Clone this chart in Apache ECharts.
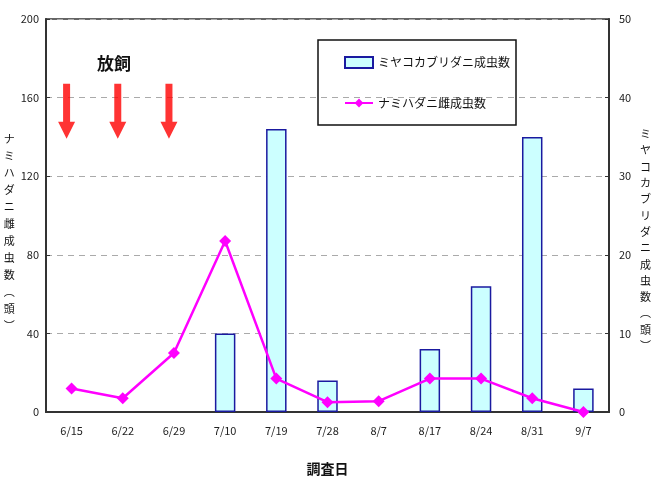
<!DOCTYPE html>
<html>
<head>
<meta charset="utf-8">
<script src="https://cdn.jsdelivr.net/npm/echarts@6/dist/echarts.min.js"></script>
<style>
html,body{margin:0;padding:0;background:#fff;}
#c{width:659px;height:477px;}
</style>
</head>
<body>
<div id="c"></div>
<script>
// ---- data ----
var categories = ['6/15','6/22','6/29','7/10','7/19','7/28','8/7','8/17','8/24','8/31','9/7'];
// ミヤコカブリダニ成虫数 (right axis)
var predatorCounts = [null, null, null, 10, 36, 4, null, 8, 16, 35, 3];
// ナミハダニ雌成虫数 (left axis)
var spiderMiteCounts = [12, 7, 30, 87, 17, 5, 5.5, 17, 17, 7, 0];
// release (放飼) dates, marked with arrows
var releaseDates = ['6/15','6/22','6/29'];
var releaseMarkLevel = 153;
var leftTicks = {min: 0, max: 200, interval: 40};
var rightTicks = {min: 0, max: 50, interval: 10};
var barName = 'ミヤコカブリダニ成虫数';
var lineName = 'ナミハダニ雌成虫数';
var leftAxisName = 'ナミハダニ雌成虫数︵頭︶';
var rightAxisName = 'ミヤコカブリダニ成虫数︵頭︶';
var xAxisName = '調査日';
var releaseLabel = '放飼';

var FONT = '"Noto Sans CJK JP", "Liberation Sans", sans-serif';
var chart = echarts.init(document.getElementById('c'), null, {renderer: 'canvas'});
var arrowPath = 'path://M5,0 L12,0 L12,38 L17,38 L8.5,55 L0,38 L5,38 Z';

function verticalText(s, leadingBlankLines) {
  var pre = '';
  for (var i = 0; i < leadingBlankLines; i++) pre += '\n';
  return pre + s.split('').join('\n');
}

chart.setOption({
  animation: false,
  backgroundColor: '#fff',
  textStyle: {fontFamily: FONT},
  title: {
    text: releaseLabel,
    left: 92, top: 50,
    textStyle: {fontSize: 17, fontWeight: 'bold', color: '#111', fontFamily: FONT}
  },
  legend: {
    left: 318, top: 40,
    orient: 'vertical',
    borderColor: '#111', borderWidth: 1.5,
    padding: [16, 6, 16, 26],
    itemGap: 28,
    itemWidth: 28, itemHeight: 11,
    textStyle: {fontSize: 12, color: '#111', fontFamily: FONT},
    data: [
      {name: barName, icon: 'rect'},
      {name: lineName}
    ]
  },
  grid: {
    left: 46, right: 50, top: 19, bottom: 65,
    show: true, borderColor: '#333', borderWidth: 1.5,
    containLabel: false,
    outerBoundsMode: 'none'
  },
  xAxis: {
    type: 'category',
    data: categories,
    name: xAxisName,
    nameLocation: 'middle',
    nameGap: 50,
    nameTextStyle: {fontSize: 14, fontWeight: 'bold', color: '#111', fontFamily: FONT},
    axisLine: {lineStyle: {color: '#333', width: 2}},
    axisTick: {inside: true, length: 4, lineStyle: {color: '#333'}},
    axisLabel: {fontSize: 11, color: '#222', margin: 13}
  },
  yAxis: [
    {
      type: 'value',
      min: leftTicks.min, max: leftTicks.max, interval: leftTicks.interval,
      name: verticalText(leftAxisName, 2),
      nameLocation: 'middle',
      nameRotate: 0,
      nameGap: 29,
      nameTextStyle: {fontSize: 11, lineHeight: 17, color: '#111', fontFamily: FONT},
      axisLine: {show: true, lineStyle: {color: '#333', width: 2}},
      axisTick: {show: true, inside: true, length: 4, lineStyle: {color: '#333'}},
      axisLabel: {fontSize: 11, color: '#222', margin: 7},
      splitLine: {show: true, lineStyle: {color: '#aaa', type: [6, 5], width: 1}}
    },
    {
      type: 'value',
      min: rightTicks.min, max: rightTicks.max, interval: rightTicks.interval,
      name: verticalText(rightAxisName, 3),
      nameLocation: 'middle',
      nameRotate: 0,
      nameGap: 31,
      nameTextStyle: {fontSize: 11, lineHeight: 16.3, color: '#111', fontFamily: FONT},
      axisLine: {show: true, lineStyle: {color: '#333', width: 2}},
      axisTick: {show: true, inside: true, length: 4, lineStyle: {color: '#333'}},
      axisLabel: {fontSize: 11, color: '#222', margin: 10},
      splitLine: {show: false}
    }
  ],
  series: [
    {
      name: barName,
      type: 'bar',
      yAxisIndex: 1,
      data: predatorCounts,
      barWidth: '40%',
      itemStyle: {color: '#ccffff', borderColor: '#1a1aa0', borderWidth: 1.5}
    },
    {
      name: lineName,
      type: 'line',
      yAxisIndex: 0,
      data: spiderMiteCounts,
      symbol: 'diamond',
      symbolSize: 12,
      lineStyle: {color: '#ff00ff', width: 2.5},
      itemStyle: {color: '#ff00ff'},
      z: 5
    },
    {
      name: 'release',
      type: 'scatter',
      yAxisIndex: 0,
      data: releaseDates.map(function (d) { return [d, releaseMarkLevel]; }),
      symbol: arrowPath,
      symbolSize: [17, 55],
      symbolOffset: [-5, 0],
      itemStyle: {color: '#ff0000'},
      silent: true,
      z: 4
    }
  ]
});
</script>
</body>
</html>
